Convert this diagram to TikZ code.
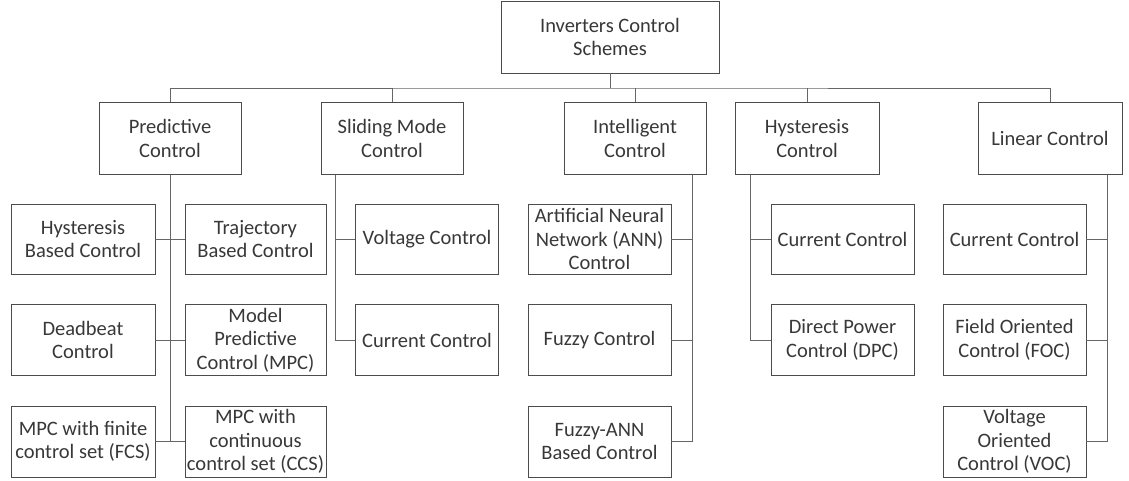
\documentclass[tikz,border=0pt]{standalone}
\usepackage{fontspec}
\setmainfont{Carlito}
\newlength{\du}
\setlength{\du}{1pt}
\tikzset{
  blk/.style={draw=black!70, line width=0.9pt, fill=white, text=black!78, align=center,
    minimum width=143\du, minimum height=71\du, inner sep=0pt,
    font=\fontsize{20.5}{23.5}\selectfont},
  wire/.style={draw=black!60, line width=0.8pt}
}

\begin{document}
\begin{tikzpicture}
\pgftransformxscale{1.000000}
\pgftransformyscale{-1.000000}
\useasboundingbox (0\du,0\du) rectangle (1129\du,481\du);
% top level
\node[blk, minimum width=218\du, minimum height=72\du] (root) at (610\du,37\du) {Inverters Control\\Schemes};
\node[blk, minimum width=142\du, minimum height=72\du] (pred) at (170\du,138.5\du) {Predictive\\Control};
\node[blk, minimum width=142\du, minimum height=72\du] (slid) at (392\du,138.5\du) {Sliding Mode\\Control};
\node[blk, minimum width=142\du, minimum height=72\du] (intel) at (635\du,138.5\du) {Intelligent\\Control};
\node[blk, minimum width=144\du, minimum height=72\du] (hyst) at (807\du,138.5\du) {Hysteresis\\Control};
\node[blk, minimum width=144\du, minimum height=72\du] (lin) at (1050\du,138.5\du) {Linear Control};
% predictive control
\node[blk, minimum width=144\du, minimum height=70\du] (hbc) at (83\du,239\du) {Hysteresis\\Based Control};
\node[blk, minimum width=141\du, minimum height=70\du] (tbc) at (255.5\du,239\du) {Trajectory\\Based Control};
\node[blk, minimum width=144\du] (dbc) at (83\du,340\du) {Deadbeat\\Control};
\node[blk, minimum width=141\du] (mpc) at (255.5\du,340\du) {Model\\Predictive\\Control (MPC)};
\node[blk, minimum width=144\du] (fcs) at (83\du,441.5\du) {MPC with finite\\control set (FCS)};
\node[blk, minimum width=141\du] (ccs) at (255.5\du,441.5\du) {MPC with\\continuous\\control set (CCS)};
% sliding mode
\node[blk, minimum height=70\du] (svc) at (427\du,239\du) {Voltage Control};
\node[blk] (scc) at (427\du,340\du) {Current Control};
% intelligent
\node[blk, minimum height=70\du] (ann) at (599.5\du,239\du) {Artificial Neural\\Network (ANN)\\Control};
\node[blk] (fuz) at (599.5\du,340\du) {Fuzzy Control};
\node[blk] (fann) at (599.5\du,441.5\du) {Fuzzy-ANN\\Based Control};
% hysteresis
\node[blk, minimum height=70\du] (hcc) at (842.5\du,239\du) {Current Control};
\node[blk] (dpc) at (842.5\du,340\du) {Direct Power\\Control (DPC)};
% linear
\node[blk, minimum height=70\du] (lcc) at (1014.5\du,239\du) {Current Control};
\node[blk] (foc) at (1014.5\du,340\du) {Field Oriented\\Control (FOC)};
\node[blk] (voc) at (1014.5\du,441.5\du) {Voltage\\Oriented\\Control (VOC)};
% bus
\coordinate (bus) at (610\du,88\du);
\draw[wire] (root.south) -- (bus);
\draw[wire] (pred.north) |- (bus) -| (lin.north);
\draw[wire] (slid.north) -- (slid.north |- bus);
\draw[wire] (intel.north) -- (intel.north |- bus);
\draw[wire] (hyst.north) -- (hyst.north |- bus);
% predictive branches
\draw[wire] (pred.south) -- (pred.south |- fcs.east);
\draw[wire] (hbc.east) -- (tbc.west);
\draw[wire] (dbc.east) -- (mpc.west);
\draw[wire] (fcs.east) -- (ccs.west);
% sliding mode branches
\draw[wire] ([xshift=15\du]slid.south west) |- (scc.west);
\draw[wire] ([xshift=15\du]slid.south west) |- (svc.west);
% intelligent branches
\draw[wire] ([xshift=-14\du]intel.south east) |- (fann.east);
\draw[wire] ([xshift=-14\du]intel.south east) |- (ann.east);
\draw[wire] ([xshift=-14\du]intel.south east) |- (fuz.east);
% hysteresis branches
\draw[wire] ([xshift=16\du]hyst.south west) |- (dpc.west);
\draw[wire] ([xshift=16\du]hyst.south west) |- (hcc.west);
% linear branches
\draw[wire] ([xshift=-15\du]lin.south east) |- (voc.east);
\draw[wire] ([xshift=-15\du]lin.south east) |- (lcc.east);
\draw[wire] ([xshift=-15\du]lin.south east) |- (foc.east);
\end{tikzpicture}
\end{document}
